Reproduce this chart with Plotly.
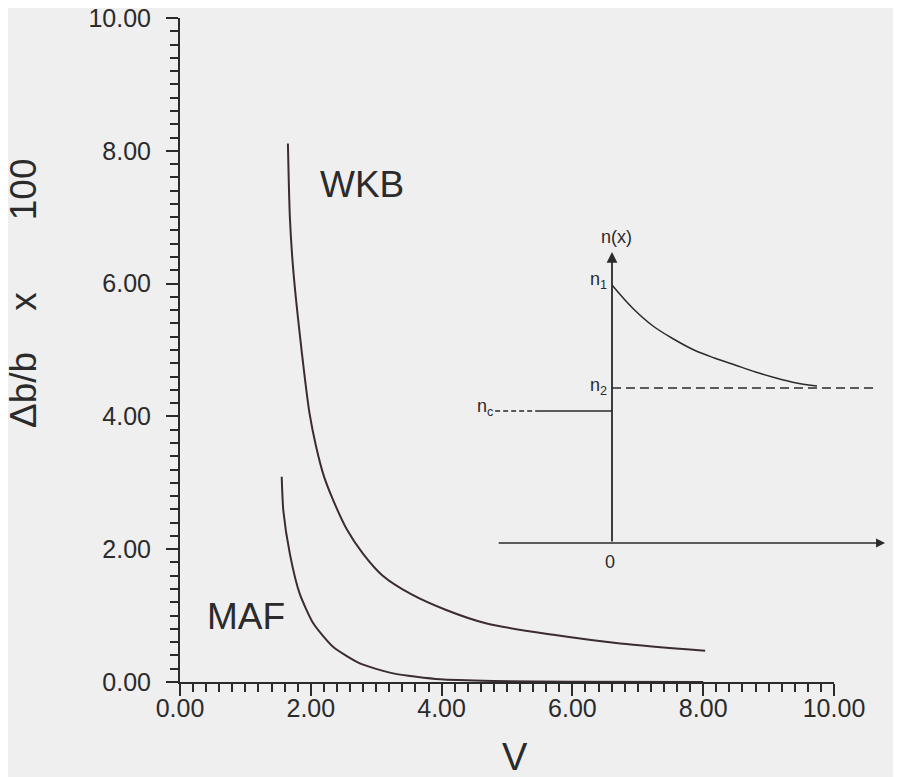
import plotly.graph_objects as go

# ---- main chart data ----
wkb_v = [1.65, 1.68, 1.72, 1.77, 1.83, 1.90, 1.98, 2.08, 2.20, 2.35, 2.55, 2.80, 3.10, 3.52, 4.08, 4.69, 5.71, 6.73, 8.03]
wkb_y = [8.11, 7.00, 6.35, 5.80, 5.25, 4.65, 4.05, 3.55, 3.10, 2.72, 2.30, 1.93, 1.60, 1.33, 1.08, 0.88, 0.71, 0.58, 0.47]

maf_v = [1.555, 1.58, 1.68, 1.83, 2.04, 2.34, 2.75, 3.26, 3.98, 4.8, 6.0, 8.0]
maf_y = [3.09, 2.58, 1.93, 1.33, 0.88, 0.53, 0.28, 0.13, 0.04, 0.015, 0.005, 0.0]

x_ticks = [0, 2, 4, 6, 8, 10]
y_ticks = [0, 2, 4, 6, 8, 10]

# ---- inset (index profile sketch) data ----
inset_curve_x = [0, 0.5, 1.0, 1.5, 2.0, 2.5, 3.0, 3.5, 4.0, 4.5, 5.0]
inset_curve_n = [2.58, 2.35, 2.17, 2.04, 1.93, 1.85, 1.78, 1.71, 1.65, 1.60, 1.57]
n1, n2, nc = 2.58, 1.55, 1.32
inset_nc_dash_x = [-2.85, -1.83]
inset_nc_solid_x = [-1.83, 0.0]
inset_n2_x = [0.0, 6.37]
inset_base_x = [-2.80, 6.66]
inset_axis_top = 2.91

INK = "#2b2b2b"
LINE = "#3b2b33"
BG = "#efefef"
FONT = "Liberation Sans, Arial, sans-serif"

# page has an 8px body margin; layout compensates for it
L, T, W, H = 172, 10, 901, 777
PW = W - L          # plot-area width (r = 0)
PH = 664            # plot-area height
Y0 = T + PH         # pixel row of y = 0 inside the figure

fig = go.Figure()

fig.add_trace(go.Scatter(x=wkb_v, y=wkb_y, mode="lines",
                         line=dict(color=LINE, width=2, shape="spline", smoothing=0.8),
                         showlegend=False, hoverinfo="skip"))
fig.add_trace(go.Scatter(x=maf_v, y=maf_y, mode="lines",
                         line=dict(color=LINE, width=2, shape="spline", smoothing=0.6),
                         showlegend=False, hoverinfo="skip"))

# inset traces
fig.add_trace(go.Scatter(x=inset_curve_x, y=inset_curve_n, mode="lines", xaxis="x2", yaxis="y2",
                         line=dict(color=INK, width=1.5, shape="spline"), showlegend=False, hoverinfo="skip"))
fig.add_trace(go.Scatter(x=inset_n2_x, y=[n2, n2], mode="lines", xaxis="x2", yaxis="y2",
                         line=dict(color=INK, width=1.5, dash="9px,5px"), showlegend=False, hoverinfo="skip"))
fig.add_trace(go.Scatter(x=inset_nc_dash_x, y=[nc, nc], mode="lines", xaxis="x2", yaxis="y2",
                         line=dict(color=INK, width=1.5, dash="5px,3px"), showlegend=False, hoverinfo="skip"))
fig.add_trace(go.Scatter(x=inset_nc_solid_x, y=[nc, nc], mode="lines", xaxis="x2", yaxis="y2",
                         line=dict(color=INK, width=1.5), showlegend=False, hoverinfo="skip"))

annotations = []
# inset arrows (axes of sketch)
annotations.append(dict(x=inset_base_x[1], y=0, ax=inset_base_x[0], ay=0, xref="x2", yref="y2",
                        axref="x2", ayref="y2", showarrow=True, arrowhead=2, arrowsize=1.2,
                        arrowwidth=1.5, arrowcolor=INK, text=""))
annotations.append(dict(x=0, y=inset_axis_top, ax=0, ay=0, xref="x2", yref="y2",
                        axref="x2", ayref="y2", showarrow=True, arrowhead=2, arrowsize=1.2,
                        arrowwidth=1.8, arrowcolor=INK, text=""))
# inset labels
isz = 18
annotations += [
    dict(x=0.1, y=3.06, xref="x2", yref="y2", text="n(x)", showarrow=False,
         font=dict(size=isz, color=INK, family=FONT), xanchor="center", yanchor="middle"),
    dict(x=-0.08, y=n1 + 0.05, xref="x2", yref="y2", text="n<sub>1</sub>", showarrow=False,
         font=dict(size=isz, color=INK, family=FONT), xanchor="right", yanchor="middle"),
    dict(x=-0.08, y=n2 + 0.02, xref="x2", yref="y2", text="n<sub>2</sub>", showarrow=False,
         font=dict(size=isz, color=INK, family=FONT), xanchor="right", yanchor="middle"),
    dict(x=-2.86, y=nc + 0.04, xref="x2", yref="y2", text="n<sub>c</sub>", showarrow=False,
         font=dict(size=isz, color=INK, family=FONT), xanchor="right", yanchor="middle"),
    dict(x=-0.05, y=-0.19, xref="x2", yref="y2", text="0", showarrow=False,
         font=dict(size=isz, color=INK, family=FONT), xanchor="center", yanchor="middle"),
    dict(x=6.8, y=-0.05, xref="x2", yref="y2", text="x", showarrow=False,
         font=dict(size=isz, color=INK, family=FONT), xanchor="left", yanchor="middle"),
]
# curve labels
annotations += [
    dict(x=2.78, y=7.49, xref="x", yref="y", text="WKB", showarrow=False,
         font=dict(size=37, color=INK, family=FONT), xanchor="center", yanchor="middle"),
    dict(x=1.01, y=0.99, xref="x", yref="y", text="MAF", showarrow=False,
         font=dict(size=37, color=INK, family=FONT), xanchor="center", yanchor="middle"),
]
# axis titles
nb = "\u00a0"
annotations += [
    dict(x=(16 - L) / PW, y=(Y0 - 286) / PH, xref="paper", yref="paper",
         text="Δb/b" + nb * 4 + "x" + nb * 7 + "100",
         textangle=-90, showarrow=False, font=dict(size=37, color=INK, family=FONT),
         xanchor="center", yanchor="middle", borderpad=0),
    dict(x=(507 - L) / PW, y=(Y0 - 749) / PH, xref="paper", yref="paper", text="V", showarrow=False,
         font=dict(size=38, color=INK, family=FONT), xanchor="center", yanchor="middle"),
]

axis_common = dict(showgrid=False, zeroline=False, showline=True, linecolor=INK, linewidth=2,
                   ticks="outside", tickcolor=INK, tickwidth=2, ticklen=12, automargin=False,
                   ticklabeloverflow="allow",
                   tickformat=".2f", tickfont=dict(size=25, color=INK, family=FONT))

fig.update_layout(
    width=W, height=H,
    margin=dict(l=L, r=0, t=T, b=H - T - PH, autoexpand=False),
    paper_bgcolor=BG, plot_bgcolor=BG,
    showlegend=False,
    xaxis=dict(range=[0, 10], domain=[0, 654 / PW], tickvals=x_ticks, ticklabelstandoff=-9,
               minor=dict(dtick=0.2, ticks="outside", ticklen=8, tickwidth=1.5, tickcolor=INK),
               **axis_common),
    yaxis=dict(range=[0, 10], domain=[0, 1], tickvals=y_ticks, ticklabelstandoff=10,
               minor=dict(dtick=0.2, ticks="outside", ticklen=8, tickwidth=1.5, tickcolor=INK),
               **axis_common),
    xaxis2=dict(domain=[(460.5 - L) / PW, (891 - L) / PW], range=[-3.5, 7.0], anchor="y2", visible=False),
    yaxis2=dict(domain=[(Y0 - 562) / PH, (Y0 - 227) / PH], range=[-0.27, 3.08], anchor="x2", visible=False),
    annotations=annotations,
)

fig.write_html("out.html")
